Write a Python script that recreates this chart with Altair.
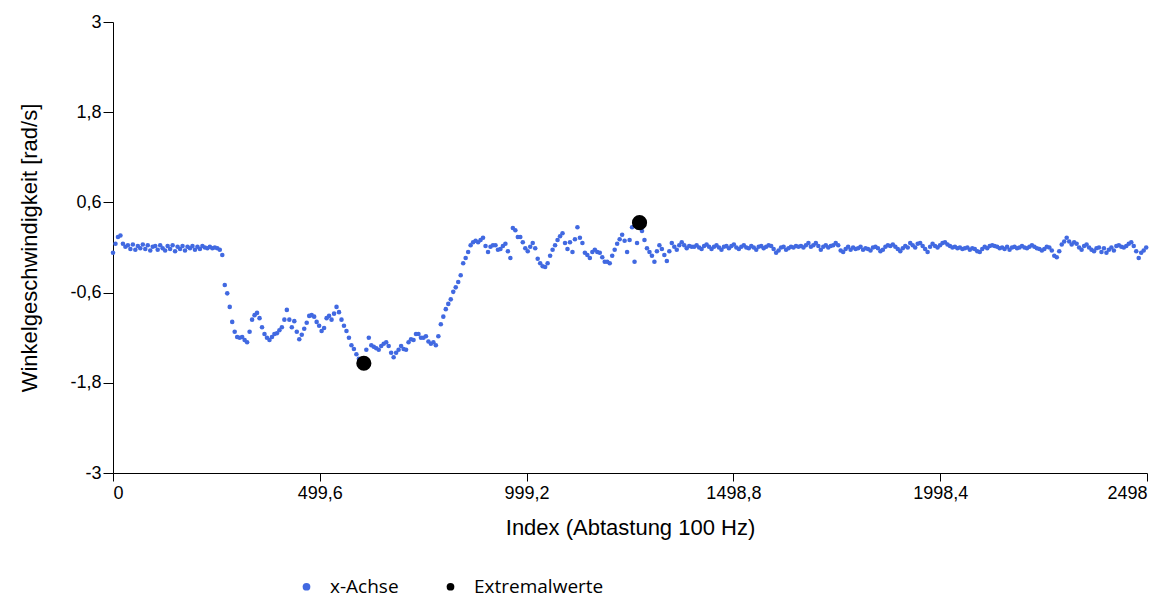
import altair as alt
import pandas as pd

# Sampling step (index units) between read-off values
STEP = 6

# Segment 1: start plateau (index 0 ...)
seg1_start = 0
seg1 = [-0.07, 0.05, 0.14, 0.16, 0.05, 0.01,
        0.03, -0.02, 0.04, -0.03, 0.02, -0.01, 0.04, -0.02, 0.03, -0.04,
        0.01, 0.02, -0.03, 0.03, -0.01, -0.04, 0.02, -0.02, 0.03, -0.05,
        0.01, -0.02, 0.02, -0.04, 0.01, -0.01, 0.02, -0.03, 0.01, -0.02,
        0.02, 0.00, -0.01, 0.01, -0.01, 0.00, -0.01, -0.03]

# Segment 2: drop and low phase (index 264 ...)
seg2_start = 264
seg2 = [-0.10, -0.50, -0.61, -0.79, -0.99, -1.12, -1.19, -1.20, -1.19, -1.23,
        -1.26, -1.12, -0.96, -0.90, -0.87, -0.94, -1.06, -1.15, -1.20, -1.23,
        -1.19, -1.15, -1.14, -1.10, -1.06, -0.96, -0.83, -0.96, -1.06, -0.98,
        -1.12, -1.22, -1.16, -1.08, -1.00, -0.91, -0.90, -0.92, -0.99, -1.04,
        -1.11, -1.07, -0.94, -0.91, -0.96, -0.88, -0.79, -0.86, -0.96, -1.04,
        -1.11, -1.20, -1.30, -1.35, -1.42, -1.48, -1.52, -1.54, -1.36, -1.20]

# Segment 3: low phase and rise (index 624 ...)
seg3_start = 624
seg3 = [-1.30, -1.32, -1.34, -1.36, -1.31, -1.28, -1.26, -1.31, -1.40, -1.46,
        -1.40, -1.36, -1.31, -1.35, -1.36, -1.26, -1.22, -1.23, -1.15, -1.15,
        -1.20, -1.20, -1.18, -1.25, -1.28, -1.26, -1.30, -1.18, -1.02, -0.92,
        -0.82, -0.75, -0.69, -0.59, -0.53, -0.46, -0.37, -0.21, -0.14, -0.06,
        0.03, 0.07, 0.09, 0.07, 0.10, 0.13, 0.02, -0.06, 0.01, 0.03,
        0.03, -0.03, -0.02, 0.02, 0.05, -0.05, -0.14, 0.26, 0.23, 0.14]

# Segment 4: oscillating phase (index 984 ...)
seg4_start = 984
seg4 = [0.14, 0.07, -0.01, -0.05, 0.01, 0.06, -0.01, -0.15, -0.21, -0.25,
        -0.26, -0.21, -0.11, -0.03, 0.03, 0.10, 0.15, 0.19, 0.06, -0.02,
        0.07, -0.06, 0.11, 0.27, 0.13, 0.06, -0.07, -0.10, -0.14, -0.06,
        -0.03, -0.06, -0.07, -0.13, -0.19, -0.19, -0.21, -0.11, -0.03, 0.05,
        0.11, 0.17, 0.09, -0.06, 0.10, 0.27, -0.19, 0.06, 0.33, 0.22,
        0.10, -0.01, -0.06, -0.11, -0.19, -0.05, 0.03, -0.02, -0.10, -0.18,
        -0.05, 0.06, 0.01, -0.03, 0.03, 0.07, 0.03, -0.01, 0.02, 0.01]

# Segment 5a: calm phase (index 1404 ...)
seg5a_start = 1404
seg5a = [0.01, 0.03, 0.00, -0.02, 0.02, 0.04, 0.01, -0.02, 0.01, 0.03,
         0.00, -0.03, 0.01, 0.02, -0.01, 0.02, 0.04, 0.00, -0.02, 0.01,
         0.03, 0.00, -0.01, 0.02, 0.00, -0.03, 0.01, 0.02, -0.01, 0.01,
         0.03, 0.02, -0.02, -0.07, -0.04, 0.00, 0.01, -0.03, -0.01, 0.01,
         0.00, 0.02, 0.01, 0.02, 0.00, 0.03, 0.06, 0.01, 0.03, 0.06,
         0.02, -0.03, 0.01, 0.03, 0.00, 0.02, 0.03, 0.06, 0.03, -0.04,
         -0.06, -0.02, 0.01, -0.03, 0.00, -0.02, -0.01, 0.01, -0.03, -0.01,
         -0.02, -0.04, 0.00, 0.01, -0.01, -0.05, -0.03, 0.01, 0.03, 0.02,
         0.04, 0.01, -0.02, -0.05, -0.01, 0.02, 0.00, 0.06, 0.03, 0.00, 0.05]

# Segment 5b: calm phase to the end (index 1950 ...)
seg5b_start = 1950
seg5b = [0.06, 0.02, -0.02, -0.06, 0.01, 0.05, 0.02, 0.00, 0.03, 0.06,
         0.07, 0.04, 0.02, 0.00, 0.01, -0.01, 0.00, -0.02, -0.01, 0.00,
         -0.03, -0.01, -0.02, -0.05, -0.06, -0.02, 0.01, -0.01, 0.02, 0.03,
         0.02, 0.01, -0.01, 0.00, -0.02, 0.01, -0.03, 0.00, 0.01, -0.01,
         0.00, 0.02, 0.00, -0.01, 0.01, 0.03, 0.01, -0.01, -0.02, -0.04,
         -0.02, 0.01, 0.00, -0.04, -0.11, -0.13, -0.05, 0.04, 0.08, 0.13,
         0.08, 0.04, 0.07, 0.05, 0.00, -0.03, 0.02, 0.04, 0.00, -0.03,
         -0.05, -0.01, 0.00, -0.06, -0.01, -0.07, -0.03, 0.00, -0.04, 0.02,
         0.03, 0.01, 0.00, 0.02, 0.05, 0.07, 0.02, -0.05, -0.14, -0.07, -0.04, 0.00]

# Extremal values
ext_index = [606, 1272]
ext_value = [-1.54, 0.33]

x_ticks = [0, 499.6, 999.2, 1498.8, 1998.4, 2498]
y_ticks = [-3, -1.8, -0.6, 0.6, 1.8, 3]
series_names = ["x-Achse", "Extremalwerte"]
series_colors = ["#4169E1", "#000000"]

rows = []
for start, vals in [(seg1_start, seg1), (seg2_start, seg2), (seg3_start, seg3),
                    (seg4_start, seg4), (seg5a_start, seg5a), (seg5b_start, seg5b)]:
    for i, v in enumerate(vals):
        rows.append({"Index": start + STEP * i, "Wert": v, "Reihe": series_names[0]})
df_line = pd.DataFrame(rows)
df_ext = pd.DataFrame({"Index": ext_index, "Wert": ext_value, "Reihe": [series_names[1]] * 2})

FONT = "Liberation Sans"

x_enc = alt.X("Index:Q",
              scale=alt.Scale(domain=[0, 2498], nice=False, zero=False),
              axis=alt.Axis(values=x_ticks, title="Index (Abtastung 100 Hz)",
                            labelExpr="replace(toString(datum.value), '.', ',')",
                            grid=False, domainColor="black", tickColor="black",
                            tickSize=8, labelPadding=3, titlePadding=15,
                            labelFontSize=18, titleFontSize=22,
                            labelFont=FONT, titleFont=FONT,
                            labelColor="black", titleColor="black",
                            titleFontWeight="normal"))
y_enc = alt.Y("Wert:Q",
              scale=alt.Scale(domain=[-3, 3], nice=False, zero=False),
              axis=alt.Axis(values=y_ticks, title="Winkelgeschwindigkeit [rad/s]",
                            labelExpr="replace(toString(datum.value), '.', ',')",
                            grid=False, domainColor="black", tickColor="black",
                            tickSize=10, labelPadding=2, titlePadding=28,
                            labelFontSize=18, titleFontSize=22,
                            labelFont=FONT, titleFont=FONT,
                            labelColor="black", titleColor="black",
                            titleFontWeight="normal"))
color_enc = alt.Color("Reihe:N",
                      scale=alt.Scale(domain=series_names, range=series_colors),
                      legend=alt.Legend(title=None, orient="none", direction="horizontal",
                                        legendX=184, legendY=555,
                                        symbolType="circle", symbolSize=60,
                                        labelFont="Open Sans", labelFontSize=19,
                                        labelColor="black", labelOffset=14,
                                        columnPadding=42))

points = alt.Chart(df_line).mark_circle(size=21, opacity=1).encode(x=x_enc, y=y_enc, color=color_enc)
extremes = alt.Chart(df_ext).mark_circle(size=230, opacity=1).encode(x=x_enc, y=y_enc, color=color_enc)

chart = alt.layer(points, extremes).properties(
    width=1034, height=451,
    padding={"left": 10, "top": 5, "right": 0, "bottom": 3},
).configure_view(stroke=None)

chart.save("out.html", embed_options={"renderer": "svg", "actions": False})
